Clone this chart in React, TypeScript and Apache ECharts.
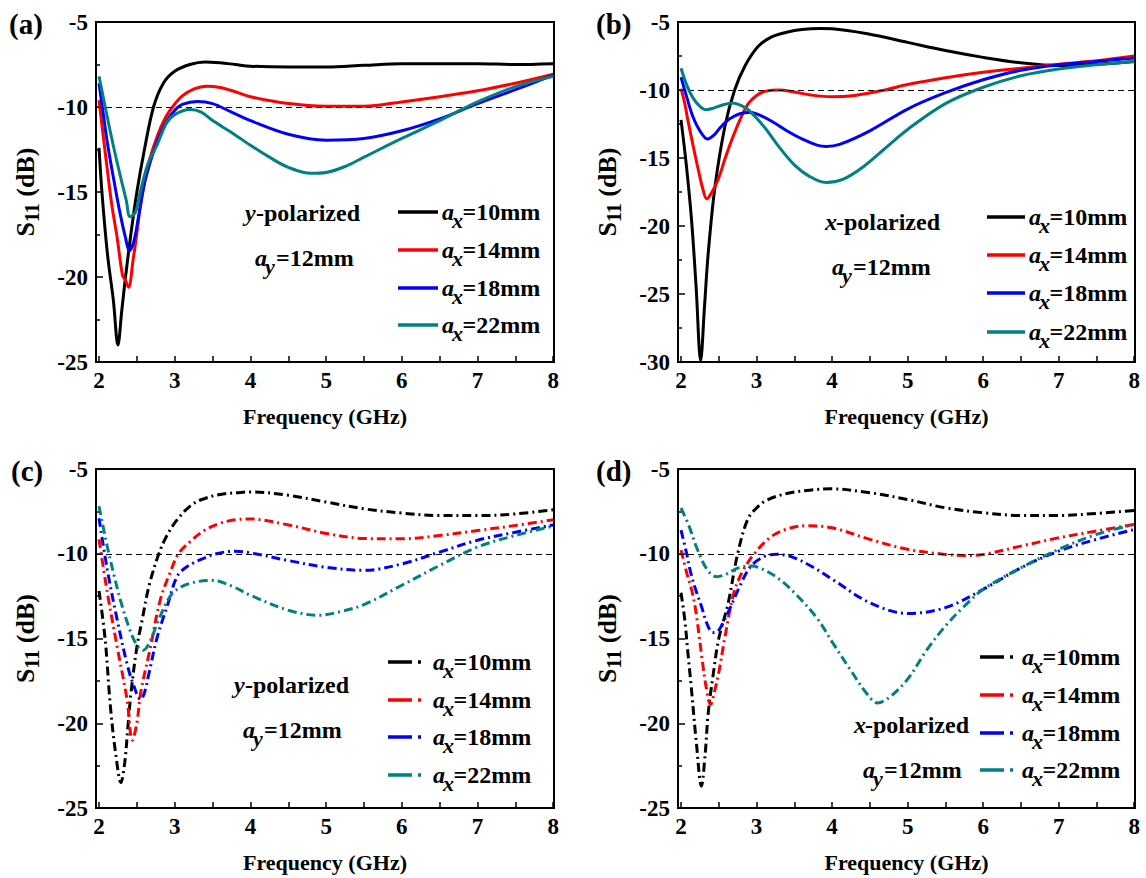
import React, { useEffect, useRef } from 'react';
import * as echarts from 'echarts';

const FONT = "'Liberation Serif', 'Times New Roman', serif";
const COLORS = ['#000000', '#ff0000', '#0000ff', '#008080'];
const legendValues = ['=10mm', '=14mm', '=18mm', '=22mm'];
const xLabelValues = [2, 3, 4, 5, 6, 7, 8];
const xTickValues = [2, 2.5, 3, 3.5, 4, 4.5, 5, 5.5, 6, 6.5, 7, 7.5, 8];

// (a) y-polarized, solid
const a10 = [[2.0,-12.4],[2.04,-15.1],[2.11,-18.6],[2.19,-21.4],[2.25,-24.0],[2.3,-22.0],[2.35,-20.0],[2.42,-17.5],[2.5,-15.0],[2.6,-12.5],[2.72,-10.0],[2.85,-8.6],[3.0,-7.9],[3.2,-7.5],[3.4,-7.35],[3.6,-7.4],[3.8,-7.5],[4.0,-7.6],[4.5,-7.65],[5.0,-7.65],[5.5,-7.55],[6.0,-7.45],[6.5,-7.45],[7.0,-7.45],[7.5,-7.5],[8.0,-7.45]];
const a14 = [[2.0,-9.6],[2.05,-11.5],[2.11,-13.7],[2.17,-15.8],[2.24,-17.7],[2.31,-19.9],[2.35,-20.2],[2.39,-20.6],[2.45,-19.0],[2.5,-17.4],[2.55,-15.7],[2.65,-13.4],[2.77,-11.7],[2.88,-10.6],[2.97,-10.0],[3.1,-9.35],[3.25,-8.95],[3.42,-8.78],[3.6,-8.85],[3.8,-9.1],[4.0,-9.4],[4.5,-9.8],[5.0,-9.95],[5.5,-9.95],[6.0,-9.7],[6.5,-9.4],[7.0,-9.05],[7.5,-8.6],[8.0,-8.07]];
const a18 = [[2.0,-8.6],[2.05,-10.2],[2.11,-12.1],[2.2,-14.4],[2.28,-16.3],[2.35,-17.7],[2.4,-18.45],[2.46,-17.9],[2.52,-16.5],[2.6,-14.5],[2.7,-12.9],[2.8,-11.7],[2.9,-10.8],[3.0,-10.2],[3.1,-9.85],[3.3,-9.67],[3.5,-9.8],[3.75,-10.3],[4.0,-10.8],[4.5,-11.6],[5.0,-11.95],[5.5,-11.85],[6.0,-11.4],[6.5,-10.7],[7.0,-9.8],[7.5,-8.98],[8.0,-8.13]];
const a22 = [[2.0,-8.2],[2.1,-10.4],[2.2,-12.5],[2.3,-14.4],[2.36,-15.5],[2.41,-16.45],[2.48,-16.2],[2.55,-14.9],[2.65,-13.3],[2.77,-12.2],[2.89,-10.95],[3.0,-10.45],[3.2,-10.15],[3.35,-10.3],[3.5,-10.8],[3.75,-11.5],[4.0,-12.25],[4.25,-12.95],[4.5,-13.55],[4.8,-13.9],[5.0,-13.85],[5.25,-13.5],[5.5,-12.95],[6.0,-11.85],[6.5,-10.8],[7.0,-9.7],[7.5,-8.8],[8.0,-8.2]];

// (b) x-polarized, solid
const b10 = [[2.0,-12.2],[2.07,-15.5],[2.14,-19.6],[2.2,-24.5],[2.26,-29.9],[2.31,-26.0],[2.36,-22.0],[2.45,-17.1],[2.58,-12.7],[2.71,-10.0],[2.85,-8.2],[3.02,-6.8],[3.2,-6.1],[3.4,-5.75],[3.6,-5.55],[3.85,-5.48],[4.0,-5.5],[4.5,-5.9],[5.0,-6.5],[5.5,-7.1],[6.0,-7.6],[6.5,-8.0],[7.0,-8.2],[7.5,-8.1],[8.0,-7.9]];
const b14 = [[2.0,-9.9],[2.05,-11.0],[2.09,-12.2],[2.16,-14.1],[2.23,-15.9],[2.29,-17.3],[2.34,-18.0],[2.4,-17.6],[2.49,-16.6],[2.58,-15.1],[2.67,-13.7],[2.78,-12.2],[2.89,-11.0],[3.0,-10.4],[3.11,-10.1],[3.3,-10.0],[3.5,-10.15],[3.72,-10.37],[4.0,-10.5],[4.3,-10.4],[4.7,-10.0],[5.0,-9.6],[5.5,-9.1],[6.0,-8.7],[6.5,-8.4],[7.0,-8.1],[7.5,-7.85],[8.0,-7.5]];
const b18 = [[2.0,-9.05],[2.08,-10.6],[2.16,-12.0],[2.25,-13.0],[2.35,-13.6],[2.44,-13.3],[2.53,-12.7],[2.65,-12.1],[2.78,-11.75],[2.9,-11.65],[3.0,-11.75],[3.2,-12.3],[3.4,-13.0],[3.6,-13.6],[3.8,-14.05],[3.92,-14.15],[4.1,-14.0],[4.5,-13.0],[5.0,-11.4],[5.5,-10.2],[6.0,-9.25],[6.5,-8.55],[7.0,-8.15],[7.5,-7.9],[8.0,-7.65]];
const b22 = [[2.0,-8.4],[2.08,-9.7],[2.16,-10.6],[2.25,-11.2],[2.33,-11.45],[2.42,-11.35],[2.55,-11.1],[2.68,-10.95],[2.8,-11.15],[2.9,-11.5],[3.1,-12.7],[3.3,-14.2],[3.5,-15.5],[3.7,-16.35],[3.92,-16.8],[4.15,-16.55],[4.4,-15.7],[4.7,-14.3],[5.0,-12.9],[5.5,-11.0],[6.0,-9.8],[6.5,-8.95],[7.0,-8.45],[7.5,-8.15],[8.0,-7.9]];

// (c) y-polarized, dashed
const c10 = [[2.0,-12.2],[2.08,-15.0],[2.15,-19.0],[2.22,-21.8],[2.29,-23.5],[2.34,-22.3],[2.38,-20.3],[2.42,-18.3],[2.5,-15.5],[2.57,-13.9],[2.66,-11.9],[2.79,-10.0],[2.9,-8.9],[3.03,-8.0],[3.2,-7.2],[3.34,-6.83],[3.6,-6.5],[3.87,-6.38],[4.0,-6.35],[4.5,-6.55],[5.0,-6.95],[5.5,-7.35],[6.0,-7.6],[6.5,-7.75],[7.0,-7.75],[7.5,-7.65],[8.0,-7.4]];
const c14 = [[2.0,-9.15],[2.11,-12.3],[2.24,-15.5],[2.37,-18.6],[2.44,-21.0],[2.5,-20.0],[2.55,-18.2],[2.68,-15.5],[2.81,-12.7],[2.94,-11.1],[3.05,-10.0],[3.2,-9.3],[3.4,-8.6],[3.6,-8.2],[3.8,-8.0],[4.0,-7.95],[4.5,-8.3],[5.0,-8.8],[5.5,-9.1],[6.0,-9.12],[6.5,-8.92],[7.0,-8.63],[7.5,-8.33],[8.0,-8.0]];
const c18 = [[2.0,-7.9],[2.11,-10.96],[2.24,-13.9],[2.37,-16.5],[2.46,-17.8],[2.55,-18.6],[2.6,-18.2],[2.66,-17.05],[2.77,-14.9],[2.9,-13.1],[3.03,-11.35],[3.15,-10.8],[3.34,-10.35],[3.55,-10.0],[3.8,-9.85],[4.0,-9.95],[4.5,-10.4],[5.0,-10.8],[5.5,-10.98],[6.0,-10.6],[6.5,-9.9],[7.0,-9.2],[7.5,-8.73],[8.0,-8.3]];
const c22 = [[2.0,-7.2],[2.11,-9.6],[2.2,-11.3],[2.28,-12.7],[2.4,-14.4],[2.5,-15.4],[2.58,-15.7],[2.66,-15.3],[2.77,-14.1],[2.9,-12.8],[3.0,-12.2],[3.2,-11.75],[3.49,-11.57],[3.75,-11.9],[4.0,-12.45],[4.5,-13.33],[4.9,-13.63],[5.2,-13.4],[5.5,-13.0],[6.0,-11.86],[6.5,-10.69],[7.0,-9.6],[7.5,-8.92],[8.0,-8.37]];

// (d) x-polarized, dashed
const d10 = [[2.0,-12.3],[2.05,-13.9],[2.09,-15.8],[2.13,-17.6],[2.2,-21.0],[2.27,-23.7],[2.32,-21.8],[2.36,-19.4],[2.43,-17.0],[2.5,-15.0],[2.62,-13.0],[2.75,-10.0],[2.88,-8.0],[3.0,-7.3],[3.14,-6.83],[3.4,-6.45],[3.7,-6.25],[3.97,-6.17],[4.5,-6.4],[5.0,-6.8],[5.5,-7.29],[6.0,-7.58],[6.5,-7.74],[7.0,-7.74],[7.5,-7.62],[8.0,-7.45]];
const d14 = [[2.0,-9.78],[2.08,-11.2],[2.15,-12.3],[2.2,-13.5],[2.27,-15.9],[2.33,-17.8],[2.39,-18.9],[2.45,-18.0],[2.5,-17.0],[2.59,-14.7],[2.7,-12.3],[2.82,-11.0],[2.97,-10.0],[3.19,-9.0],[3.4,-8.55],[3.65,-8.35],[4.0,-8.47],[4.5,-9.15],[5.0,-9.74],[5.5,-10.04],[5.75,-10.1],[6.0,-10.04],[6.5,-9.55],[7.0,-9.06],[7.5,-8.66],[8.0,-8.27]];
const d18 = [[2.0,-8.6],[2.07,-9.9],[2.13,-11.15],[2.2,-12.2],[2.27,-13.1],[2.35,-14.2],[2.42,-14.65],[2.48,-14.6],[2.53,-14.3],[2.66,-13.1],[2.78,-11.9],[2.92,-10.76],[3.1,-10.17],[3.27,-10.03],[3.5,-10.24],[3.75,-10.8],[4.0,-11.5],[4.5,-12.89],[5.0,-13.52],[5.5,-13.18],[6.0,-12.1],[6.5,-10.83],[7.0,-9.84],[7.5,-9.15],[8.0,-8.57]];
const d22 = [[2.0,-7.3],[2.1,-8.3],[2.22,-9.78],[2.35,-10.96],[2.47,-11.35],[2.6,-11.2],[2.75,-10.85],[2.93,-10.72],[3.1,-10.95],[3.3,-11.5],[3.5,-12.3],[3.8,-13.8],[4.0,-15.2],[4.25,-16.9],[4.45,-18.2],[4.6,-18.8],[4.75,-18.5],[5.0,-17.4],[5.25,-15.7],[5.5,-14.26],[5.75,-13.1],[6.0,-12.1],[6.5,-10.83],[7.0,-9.74],[7.5,-8.86],[8.0,-8.27]];

const panels = [
  { label: '(a)', labelPos: [9, 24], left: 96, top: 22, width: 458, height: 340, yMin: -25, dashed: false,
    curves: [a10, a14, a18, a22], pol: 'y', polPos: [245, 213], ayPos: [255, 258],
    legend: { x1: 398, x2: 438, tx: 442, rows: [212, 250, 288, 325] } },
  { label: '(b)', labelPos: [596, 24], left: 678, top: 22, width: 457, height: 340, yMin: -30, dashed: false,
    curves: [b10, b14, b18, b22], pol: 'x', polPos: [825, 222], ayPos: [832, 267],
    legend: { x1: 987, x2: 1025, tx: 1029, rows: [217, 255, 293, 332] } },
  { label: '(c)', labelPos: [11, 471], left: 96, top: 469, width: 458, height: 339, yMin: -25, dashed: true,
    curves: [c10, c14, c18, c22], pol: 'y', polPos: [234, 685], ayPos: [243, 730],
    legend: { x1: 388, x2: 423, tx: 433, rows: [662, 700, 737, 775] } },
  { label: '(d)', labelPos: [596, 471], left: 678, top: 469, width: 457, height: 339, yMin: -25, dashed: true,
    curves: [d10, d14, d18, d22], pol: 'x', polPos: [854, 725], ayPos: [863, 770],
    legend: { x1: 980, x2: 1014, tx: 1022, rows: [657, 695, 733, 770] } },
];

function txt(x: number, y: number, text: string, size: number, italic = false): any {
  return {
    type: 'text', x, y, silent: true,
    style: {
      text, fill: '#000', fontFamily: FONT, fontWeight: 'bold', fontStyle: italic ? 'italic' : 'normal',
      fontSize: size, align: 'left', verticalAlign: 'middle', textAlign: 'left', textVerticalAlign: 'middle',
    },
  };
}

function subLabel(x: number, y: number, sub: string, rest: string, restOff: number): any[] {
  return [
    txt(x, y, 'a', 24, true),
    txt(x + 10, y + 8, sub, 22, true),
    txt(x + restOff, y, rest, 24),
  ];
}

function buildOption(): any {
  const grid: any[] = [];
  const xAxis: any[] = [];
  const yAxis: any[] = [];
  const series: any[] = [];
  const graphic: any[] = [];
  const axisLine = { show: true, onZero: false, lineStyle: { color: '#000', width: 2 } };
  const labelStyle = { fontFamily: FONT, fontWeight: 'bold', fontSize: 23, color: '#000' };

  panels.forEach((p, i) => {
    grid.push({ left: p.left, top: p.top, width: p.width, height: p.height, show: true, borderColor: '#000', borderWidth: 2, backgroundColor: 'transparent', containLabel: false });
    xAxis.push({
      gridIndex: i, type: 'value', min: 1.96, max: 8.01,
      axisLine,
      axisTick: { show: true, inside: true, length: 6, customValues: xTickValues, lineStyle: { color: '#000', width: 1.5 } },
      axisLabel: { show: true, customValues: xLabelValues, margin: 7, ...labelStyle, formatter: (v: number) => String(v) },
      splitLine: { show: false },
      name: 'Frequency (GHz)', nameLocation: 'middle', nameGap: 43,
      nameTextStyle: { ...labelStyle, fontSize: 22 },
    });
    yAxis.push({
      gridIndex: i, type: 'value', min: p.yMin, max: -5, interval: 5,
      axisLine,
      axisTick: { show: true, inside: true, length: 7, lineStyle: { color: '#000', width: 1.5 } },
      minorTick: { show: true, splitNumber: 2, length: 4, lineStyle: { color: '#000', width: 1.5 } },
      axisLabel: { margin: 8, ...labelStyle },
      splitLine: { show: false }, minorSplitLine: { show: false },
      name: '{s|S}{b|11}{s| (dB)}', nameLocation: 'middle', nameGap: 54,
      nameTextStyle: {
        ...labelStyle, fontSize: 26,
        rich: {
          s: { fontFamily: FONT, fontWeight: 'bold', fontSize: 26, color: '#000', verticalAlign: 'top' },
          b: { fontFamily: FONT, fontWeight: 'bold', fontSize: 20, color: '#000', verticalAlign: 'top', padding: [10, 0, 0, 0] },
        },
      },
    });
    p.curves.forEach((data, k) => {
      const s: any = {
        type: 'line', name: p.label + legendValues[k], xAxisIndex: i, yAxisIndex: i, data,
        showSymbol: false, symbol: 'none', smooth: 0.35, z: 3 + k,
        lineStyle: { color: COLORS[k], width: 3, type: p.dashed ? [9, 4, 2, 4] : 'solid' },
        itemStyle: { color: COLORS[k] },
      };
      if (k === 0) {
        s.markLine = {
          silent: true, symbol: ['none', 'none'], label: { show: false },
          lineStyle: { color: '#000', type: [6, 4], width: 1.2 },
          data: [{ yAxis: -10 }],
        };
      }
      series.push(s);
    });

    graphic.push(txt(p.labelPos[0], p.labelPos[1], p.label, 29));
    graphic.push(txt(p.polPos[0], p.polPos[1], p.pol, 24, true));
    graphic.push(txt(p.polPos[0] + 11, p.polPos[1], '-polarized', 24));
    graphic.push(...subLabel(p.ayPos[0], p.ayPos[1], 'y', '=12mm', 21));
    p.legend.rows.forEach((ry, k) => {
      graphic.push({
        type: 'line', silent: true,
        shape: { x1: p.legend.x1, y1: ry, x2: p.legend.x2, y2: ry },
        style: { stroke: COLORS[k], lineWidth: 3.5, lineDash: p.dashed ? [24, 6, 3, 40] : null },
      });
      graphic.push(...subLabel(p.legend.tx, ry, 'x', legendValues[k], 20.5));
    });
  });

  return { animation: false, backgroundColor: '#fff', grid, xAxis, yAxis, series, graphic };
}

export default function App() {
  const ref = useRef<HTMLDivElement>(null);
  useEffect(() => {
    if (!ref.current) return;
    const chart = echarts.init(ref.current, null, { renderer: 'svg' });
    chart.setOption(buildOption());
    return () => chart.dispose();
  }, []);
  return (
    <div ref={ref} style={{ position: 'absolute', left: 0, top: 0, width: 1146, height: 878, background: '#fff' }} />
  );
}
